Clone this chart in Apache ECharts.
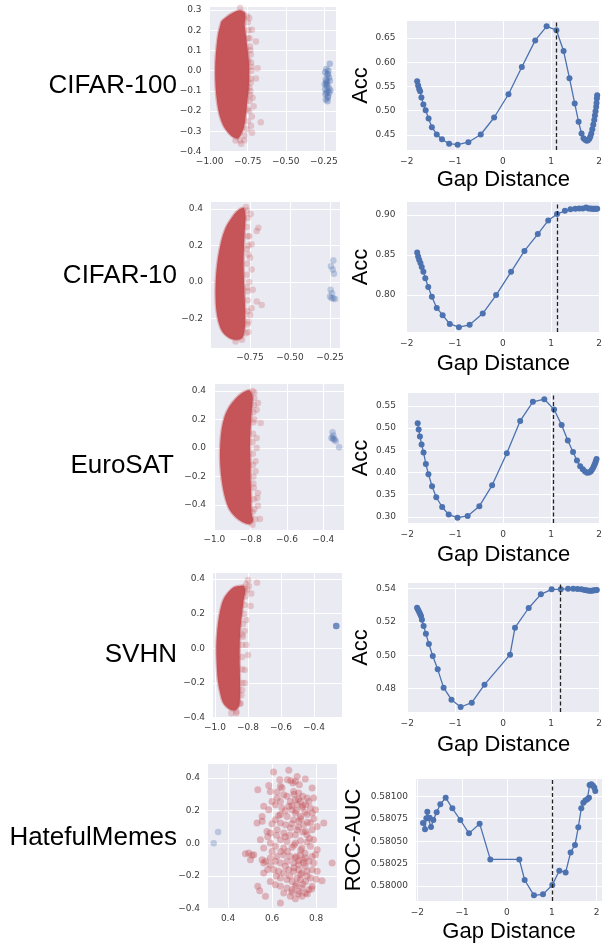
<!DOCTYPE html>
<html><head><meta charset="utf-8">
<script src="https://cdn.jsdelivr.net/npm/echarts@6/dist/echarts.min.js"></script>
<style>html,body{margin:0;padding:0;background:#fff}#c{width:605px;height:948px}</style>
</head><body><div id="c"></div>
<script>
// ---------------- DATA ----------------
const datasetNames = ['CIFAR-100', 'CIFAR-10', 'EuroSAT', 'SVHN', 'HatefulMemes'];
const metricNames = ['Acc', 'Acc', 'Acc', 'Acc', 'ROC-AUC'];
const gapAxisTitle = 'Gap Distance';

// right column: metric vs gap distance
const gapCifar100 = [-1.783,-1.763,-1.742,-1.722,-1.695,-1.654,-1.607,-1.546,-1.478,-1.376,-1.268,-1.119,-0.942,-0.719,-0.461,-0.183,0.115,0.393,0.671,0.908,1.112,1.261,1.383,1.492,1.573,1.634,1.675,1.708,1.742,1.769,1.797,1.817,1.837,1.858,1.878,1.898,1.912,1.925,1.939,1.946,1.953,1.959];
const accCifar100 = [0.561,0.552,0.545,0.540,0.527,0.513,0.501,0.484,0.466,0.451,0.441,0.432,0.430,0.435,0.451,0.486,0.534,0.590,0.645,0.674,0.666,0.623,0.567,0.515,0.477,0.453,0.443,0.440,0.438,0.439,0.442,0.447,0.453,0.462,0.471,0.481,0.490,0.499,0.508,0.516,0.525,0.532];

const gapCifar10 = [-1.783,-1.763,-1.742,-1.715,-1.688,-1.654,-1.614,-1.553,-1.478,-1.376,-1.254,-1.105,-0.915,-0.692,-0.420,-0.142,0.169,0.447,0.725,0.942,1.125,1.288,1.403,1.505,1.586,1.661,1.729,1.776,1.817,1.851,1.878,1.905,1.932,1.959];
const accCifar10 = [0.853,0.848,0.844,0.840,0.835,0.829,0.821,0.810,0.798,0.784,0.775,0.764,0.760,0.763,0.777,0.800,0.829,0.855,0.876,0.893,0.901,0.905,0.907,0.9075,0.908,0.908,0.909,0.908,0.908,0.9075,0.9075,0.9075,0.9075,0.9075];

const gapEuroSAT = [-1.782,-1.762,-1.735,-1.701,-1.660,-1.612,-1.558,-1.483,-1.395,-1.272,-1.136,-0.952,-0.741,-0.497,-0.231,0.075,0.354,0.619,0.857,1.061,1.218,1.347,1.456,1.537,1.605,1.660,1.707,1.748,1.789,1.823,1.850,1.878,1.898,1.918,1.932,1.946];
const accEuroSAT = [0.511,0.497,0.481,0.463,0.445,0.419,0.396,0.369,0.344,0.322,0.305,0.298,0.302,0.324,0.371,0.443,0.516,0.559,0.565,0.542,0.507,0.472,0.446,0.427,0.414,0.407,0.402,0.399,0.400,0.402,0.406,0.411,0.416,0.421,0.426,0.430];

const gapSVHN = [-1.795,-1.775,-1.754,-1.734,-1.713,-1.693,-1.659,-1.611,-1.549,-1.468,-1.365,-1.242,-1.078,-0.887,-0.655,-0.389,0.143,0.246,0.532,0.785,1.010,1.201,1.352,1.461,1.549,1.631,1.693,1.741,1.782,1.823,1.857,1.891,1.925,1.952];
const accSVHN = [0.5286,0.5274,0.5262,0.5250,0.5236,0.5214,0.5176,0.5130,0.5068,0.4996,0.4916,0.4806,0.4734,0.4690,0.4716,0.4824,0.5004,0.5166,0.5284,0.5366,0.5396,0.5396,0.5400,0.5400,0.5398,0.5396,0.5392,0.5390,0.5388,0.5388,0.5388,0.5390,0.5390,0.5392];

const gapHateful = [-1.874,-1.829,-1.799,-1.777,-1.755,-1.725,-1.695,-1.643,-1.569,-1.487,-1.368,-1.219,-1.041,-0.848,-0.610,-0.372,0.275,0.394,0.602,0.803,1.011,1.167,1.309,1.420,1.517,1.591,1.658,1.703,1.747,1.792,1.829,1.844,1.881,1.918,1.948,1.970];
const aucHateful = [0.580703,0.580632,0.580755,0.580829,0.580755,0.580762,0.580658,0.580736,0.580822,0.580911,0.580985,0.580866,0.580736,0.580587,0.580695,0.580297,0.580297,0.580067,0.579896,0.579907,0.580011,0.580171,0.580152,0.580375,0.580457,0.580654,0.580866,0.580929,0.580952,0.580967,0.580985,0.581126,0.581134,0.581119,0.581097,0.581059];

// dashed vertical marker (gap distance) for each dataset
const markerGap = [1.10, 1.12, 1.04, 1.19, 1.00];

// left column: embedding scatter. Dense red cloud = outline of the saturated region,
// plus individually visible red points and blue points.
const cloudCifar100 = [[-0.922,0.244],[-0.89,0.266],[-0.847,0.287],[-0.806,0.298],[-0.772,0.29],[-0.765,0.262],[-0.77,0.232],[-0.763,0.18],[-0.752,0.115],[-0.743,0.05],[-0.74,-0.016],[-0.743,-0.084],[-0.752,-0.15],[-0.762,-0.215],[-0.772,-0.272],[-0.79,-0.31],[-0.815,-0.335],[-0.847,-0.328],[-0.879,-0.305],[-0.91,-0.272],[-0.937,-0.215],[-0.955,-0.134],[-0.963,-0.05],[-0.963,0.034],[-0.955,0.118],[-0.943,0.186],[-0.93,0.225]];
const redCifar100 = [[-0.722,0.202],[-0.696,0.144],[-0.685,0.012],[-0.696,-0.038],[-0.718,-0.134],[-0.711,-0.176],[-0.722,-0.227],[-0.664,-0.255],[-0.728,-0.272],[-0.722,-0.307],[-0.772,-0.344],[-0.793,-0.361],[-0.739,-0.084],[-0.733,0.101],[-0.74,0.26],[-0.745,0.05],[-0.75,-0.19],[-0.8,0.31],[-0.75,0.16],
  [-0.755,0.27],[-0.75,0.24],[-0.745,0.2],[-0.738,0.16],[-0.735,0.12],[-0.73,0.08],[-0.728,0.04],[-0.725,0.0],[-0.73,-0.04],[-0.733,-0.1],[-0.738,-0.15],[-0.74,-0.2],[-0.748,-0.25],[-0.755,-0.29],[-0.77,-0.32],[-0.8,-0.345],[-0.83,-0.345],[-0.73,-0.06],[-0.727,0.02],[-0.735,-0.12]];
const blueCifar100 = [[-0.211,0.034],[-0.233,0.009],[-0.222,-0.016],[-0.237,-0.042],[-0.211,-0.05],[-0.228,-0.067],[-0.218,-0.084],[-0.241,-0.092],[-0.207,-0.097],[-0.233,-0.109],[-0.222,-0.126],[-0.237,-0.143],[-0.226,-0.151],[-0.241,-0.008],[-0.216,-0.033],[-0.231,-0.075],[-0.214,-0.109],[-0.239,-0.117],[-0.224,-0.134],[-0.235,-0.059],[-0.22,0.0],[-0.244,-0.067],[-0.228,-0.02],[-0.226,-0.1],[-0.23,-0.05]];

const cloudCifar10 = [[-0.792,0.405],[-0.833,0.385],[-0.873,0.34],[-0.903,0.295],[-0.93,0.222],[-0.95,0.132],[-0.962,0.04],[-0.966,-0.051],[-0.962,-0.143],[-0.948,-0.215],[-0.925,-0.268],[-0.885,-0.302],[-0.835,-0.315],[-0.797,-0.302],[-0.782,-0.25],[-0.78,-0.161],[-0.784,-0.07],[-0.788,0.022],[-0.79,0.114],[-0.787,0.206],[-0.782,0.297],[-0.778,0.365]];
const redCifar10 = [[-0.708,0.279],[-0.698,0.297],[-0.74,0.206],[-0.75,0.132],[-0.74,0.068],[-0.733,-0.042],[-0.708,-0.106],[-0.677,-0.125],[-0.74,-0.143],[-0.75,-0.18],[-0.76,-0.272],[-0.76,-0.217],[-0.746,0.371],[-0.775,0.41],[-0.76,0.2],[-0.755,0.0],[-0.765,-0.05],[-0.755,0.25],
  [-0.77,0.39],[-0.765,0.35],[-0.77,0.3],[-0.765,0.25],[-0.77,0.18],[-0.768,0.1],[-0.77,0.04],[-0.768,-0.03],[-0.765,-0.1],[-0.762,-0.16],[-0.765,-0.23],[-0.775,-0.28],[-0.8,-0.315],[-0.84,-0.325],[-0.76,0.15]];
const blueCifar10 = [[-0.229,0.117],[-0.244,0.086],[-0.233,0.068],[-0.225,0.046],[-0.246,-0.042],[-0.237,-0.061],[-0.25,-0.079],[-0.229,-0.088],[-0.219,-0.092],[-0.24,-0.088]];

const cloudEuroSAT = [[-0.809,0.405],[-0.845,0.388],[-0.882,0.348],[-0.918,0.29],[-0.943,0.222],[-0.96,0.129],[-0.968,0.012],[-0.968,-0.105],[-0.96,-0.222],[-0.943,-0.339],[-0.918,-0.43],[-0.882,-0.487],[-0.845,-0.52],[-0.805,-0.535],[-0.787,-0.51],[-0.795,-0.456],[-0.797,-0.339],[-0.8,-0.222],[-0.8,-0.105],[-0.803,0.012],[-0.8,0.129],[-0.795,0.246],[-0.789,0.36]];
const redEuroSAT = [[-0.76,0.316],[-0.745,0.175],[-0.767,0.07],[-0.767,0.0],[-0.773,-0.164],[-0.76,-0.316],[-0.764,-0.351],[-0.76,-0.405],[-0.749,-0.498],[-0.767,0.269],[-0.773,-0.094],[-0.78,0.2],[-0.785,-0.25],[-0.78,0.39],[-0.79,-0.45],
  [-0.79,0.4],[-0.78,0.35],[-0.782,0.3],[-0.785,0.25],[-0.785,0.18],[-0.787,0.1],[-0.79,0.04],[-0.788,-0.04],[-0.787,-0.12],[-0.785,-0.2],[-0.783,-0.28],[-0.782,-0.36],[-0.78,-0.43],[-0.775,-0.5],[-0.79,-0.54]];
const blueEuroSAT = [[-0.349,0.11],[-0.345,0.087],[-0.355,0.07],[-0.342,0.058],[-0.331,0.047],[-0.313,0.005],[-0.349,0.07],[-0.338,0.062]];

const cloudSVHN = [[-0.84,0.362],[-0.881,0.355],[-0.921,0.322],[-0.95,0.279],[-0.972,0.202],[-0.986,0.106],[-0.992,0.01],[-0.99,-0.087],[-0.983,-0.183],[-0.968,-0.26],[-0.95,-0.315],[-0.915,-0.35],[-0.881,-0.358],[-0.856,-0.335],[-0.848,-0.279],[-0.848,-0.183],[-0.85,-0.087],[-0.85,0.01],[-0.846,0.106],[-0.836,0.202],[-0.826,0.279],[-0.816,0.335],[-0.825,0.36]];
const redSVHN = [[-0.8,0.394],[-0.745,0.379],[-0.78,0.317],[-0.784,0.244],[-0.81,0.163],[-0.81,0.019],[-0.8,-0.038],[-0.82,-0.125],[-0.835,-0.24],[-0.85,-0.317],[-0.871,-0.375],[-0.901,-0.375],[-0.83,0.067],[-0.815,0.33],[-0.795,0.36],[-0.82,-0.2],
  [-0.81,0.37],[-0.805,0.34],[-0.815,0.3],[-0.82,0.25],[-0.825,0.2],[-0.83,0.14],[-0.835,0.08],[-0.835,0.02],[-0.835,-0.05],[-0.835,-0.12],[-0.835,-0.2],[-0.84,-0.27],[-0.845,-0.32],[-0.87,-0.365],[-0.82,0.1]];
const blueSVHN = [[-0.265,0.129],[-0.265,0.129],[-0.265,0.129],[-0.265,0.129]];

const cloudHateful = [];
const redHateful = [
[0.607,0.437],[0.676,0.447],[0.714,0.41],[0.635,0.39],[0.67,0.39],[0.685,0.384],[0.706,0.38],[0.751,0.394],[0.585,0.355],[0.638,0.349],[0.645,0.34],[0.695,0.369],[0.724,0.359],[0.782,0.339],
[0.535,0.329],[0.592,0.318],[0.623,0.314],[0.653,0.298],[0.668,0.288],[0.698,0.318],[0.721,0.308],[0.739,0.288],[0.759,0.278],[0.789,0.278],[0.623,0.278],[0.638,0.257],[0.683,0.257],[0.706,0.267],[0.729,0.257],[0.767,0.257],
[0.562,0.227],[0.6,0.257],[0.615,0.237],[0.645,0.216],[0.676,0.227],[0.691,0.206],[0.714,0.237],[0.736,0.22],[0.752,0.237],[0.774,0.216],[0.797,0.206],[0.638,0.176],[0.668,0.165],[0.706,0.186],[0.729,0.165],[0.759,0.176],[0.782,0.186],[0.555,0.165],[0.585,0.206],
[0.532,0.124],[0.555,0.135],[0.615,0.145],[0.638,0.124],[0.661,0.114],[0.698,0.145],[0.721,0.135],[0.744,0.114],[0.774,0.124],[0.805,0.104],[0.835,0.124],[0.577,0.073],[0.623,0.084],[0.683,0.094],[0.714,0.084],[0.752,0.073],[0.782,0.084],[0.592,0.063],[0.653,0.063],[0.706,0.053],[0.759,0.053],
[0.547,0.022],[0.592,0.002],[0.638,0.022],[0.668,0.012],[0.706,0.002],[0.729,0.016],[0.759,0.008],[0.789,0.022],[0.615,-0.018],[0.653,-0.029],[0.691,-0.024],[0.736,-0.029],[0.774,-0.018],[0.805,-0.039],[0.562,-0.029],
[0.479,-0.063],[0.494,-0.059],[0.509,-0.073],[0.517,-0.069],[0.502,-0.1],[0.555,-0.1],[0.57,-0.11],[0.592,-0.09],[0.623,-0.08],[0.653,-0.069],[0.683,-0.08],[0.706,-0.09],[0.729,-0.069],[0.752,-0.09],[0.782,-0.08],[0.797,-0.069],[0.615,-0.11],[0.638,-0.12],[0.668,-0.11],[0.698,-0.12],[0.721,-0.106],[0.744,-0.12],[0.767,-0.11],[0.592,-0.131],[0.562,-0.12],[0.873,-0.12],
[0.562,-0.182],[0.608,-0.161],[0.63,-0.171],[0.653,-0.182],[0.676,-0.161],[0.698,-0.171],[0.721,-0.161],[0.736,-0.182],[0.759,-0.171],[0.782,-0.161],[0.805,-0.171],[0.592,-0.233],[0.638,-0.212],[0.668,-0.222],[0.691,-0.233],[0.714,-0.212],[0.729,-0.222],[0.752,-0.233],[0.774,-0.212],[0.827,-0.229],[0.615,-0.253],
[0.535,-0.263],[0.544,-0.29],[0.57,-0.324],[0.638,-0.263],[0.668,-0.273],[0.691,-0.284],[0.706,-0.263],[0.721,-0.294],[0.736,-0.273],[0.752,-0.304],[0.767,-0.284],[0.683,-0.324],[0.706,-0.339],[0.736,-0.324],[0.638,-0.365],[0.653,-0.304],[0.782,-0.263],
[0.7,0.3],[0.72,0.27],[0.74,0.23],[0.71,0.2],[0.75,0.19],[0.73,0.15],[0.76,0.13],[0.69,0.12],[0.72,0.1],[0.74,0.07],[0.77,0.03],[0.7,-0.01],[0.73,-0.04],[0.75,-0.06],[0.71,-0.08],[0.74,-0.1],[0.72,-0.13],[0.75,-0.14],[0.7,-0.15],[0.73,-0.19],[0.76,-0.2],[0.71,-0.25],[0.74,-0.25],[0.72,-0.31],[0.76,-0.31],[0.69,-0.3],[0.68,-0.2],[0.66,-0.14],[0.67,-0.05],[0.64,-0.05],[0.66,0.04],[0.62,0.05],[0.63,0.17],[0.66,0.2],[0.69,0.23],[0.68,0.05],[0.79,0.15],[0.79,-0.12],[0.8,-0.22],[0.78,-0.28],[0.62,-0.2],[0.6,-0.05],[0.6,0.12],[0.58,-0.16],[0.58,0.04]
];
const blueHateful = [[0.355,0.069],[0.335,0.0]];

// ---------------- LAYOUT / STYLE ----------------
const gapSeries = [gapCifar100, gapCifar10, gapEuroSAT, gapSVHN, gapHateful];
const metricSeries = [accCifar100, accCifar10, accEuroSAT, accSVHN, aucHateful];
const clouds = [cloudCifar100, cloudCifar10, cloudEuroSAT, cloudSVHN, cloudHateful];
const reds = [redCifar100, redCifar10, redEuroSAT, redSVHN, redHateful];
const blues = [blueCifar100, blueCifar10, blueEuroSAT, blueSVHN, blueHateful];

const scatterGrids = [
  {left:209.5, top:7, width:126.5, height:145},
  {left:211, top:202, width:129, height:146},
  {left:214, top:384, width:130, height:146},
  {left:213, top:573, width:129, height:145},
  {left:208, top:764, width:129, height:145}
];
const lineGrids = [
  {left:406.5, top:21, width:197, height:129},
  {left:406.5, top:202, width:197, height:130},
  {left:407, top:393, width:196, height:130},
  {left:407, top:583, width:196, height:129},
  {left:416, top:779, width:186, height:122}
];
// [min, max, step, decimals]
const scatterX = [[-1.001,-0.17,0.25,2],[-0.994,-0.1875,0.25,2],[-1.002,-0.286,0.2,1],[-1.012,-0.23,0.2,1],[0.309,0.895,0.2,1]];
const scatterY = [[-0.402,0.315,0.1,1],[-0.36,0.437,0.2,1],[-0.576,0.449,0.2,1],[-0.402,0.435,0.2,1],[-0.402,0.486,0.2,1]];
const lineX = [[-2.005,2.02,1,0],[-2.005,2.02,1,0],[-2.005,2.02,1,0],[-2.005,2.02,1,0],[-2.03,2.12,1,0]];
const lineY = [[0.419,0.685,0.05,2],[0.754,0.916,0.05,2],[0.286,0.579,0.05,2],[0.466,0.5434,0.02,2],[0.579833,0.581193,0.00025,5]];
const labelY = [86, 276, 466, 655, 838];
const labelRight = [177, 177, 174, 177, 177];
const xNameGap = [19, 21, 21, 22, 20];
const yNameGap = [30, 30, 30, 30, 51];

const RED = '#C44E52', BLUE = '#4C72B0', BG = '#EAEAF2';
const TICK_FONT = 'DejaVu Sans';
const TITLE_FONT = 'Liberation Sans';

function fmt(step, dec) {
  return function (v) {
    const r = v / step;
    if (Math.abs(r - Math.round(r)) > 1e-4) return '';
    let s = (Math.round(r) * step).toFixed(dec);
    if (parseFloat(s) === 0) s = (0).toFixed(dec);
    return s.replace('-', '\u2212');
  };
}
function valueAxis(gridIndex, spec, margin, extra) {
  return Object.assign({
    type: 'value', gridIndex: gridIndex,
    min: spec[0], max: spec[1], minInterval: spec[2], maxInterval: spec[2],
    axisLine: {show: false}, axisTick: {show: false},
    splitLine: {show: true, showMinLine: false, showMaxLine: false, lineStyle: {color: '#ffffff', width: 1}},
    axisLabel: {formatter: fmt(spec[2], spec[3]), fontSize: 9, color: '#3a3a3a', fontFamily: TICK_FONT, margin: margin}
  }, extra || {});
}

const grids = [], xAxes = [], yAxes = [], series = [], graphics = [];
for (let i = 0; i < 5; i++) {
  const gs = Object.assign({show: true, backgroundColor: BG, borderWidth: 0, containLabel: false}, scatterGrids[i]);
  const gl = Object.assign({show: true, backgroundColor: BG, borderWidth: 0, containLabel: false}, lineGrids[i]);
  grids.push(gs, gl);
  const si = 2 * i, li = 2 * i + 1;
  xAxes.push(valueAxis(si, scatterX[i], 5));
  yAxes.push(valueAxis(si, scatterY[i], 8));
  xAxes.push(valueAxis(li, lineX[i], 7, {
    name: gapAxisTitle, nameLocation: 'middle', nameGap: xNameGap[i],
    nameTextStyle: {fontFamily: TITLE_FONT, fontSize: 22, color: '#000'}
  }));
  yAxes.push(valueAxis(li, lineY[i], i === 4 ? 8 : 11, {
    name: metricNames[i], nameLocation: 'middle', nameGap: yNameGap[i],
    nameTextStyle: {fontFamily: TITLE_FONT, fontSize: 22, color: '#000'}
  }));

  // scatter panel
  series.push({
    type: 'scatter', xAxisIndex: si, yAxisIndex: si, data: reds[i], symbolSize: i === 4 ? 7 : 6.5,
    itemStyle: {color: RED, opacity: i === 4 ? 0.36 : 0.25}, silent: true, clip: true
  });
  if (clouds[i].length) {
    const outline = clouds[i];
    series.push({
      type: 'custom', xAxisIndex: si, yAxisIndex: si, clip: true, silent: true,
      data: [outline[0]],
      renderItem: function (params, api) {
        const pts = outline.map(function (p) { return api.coord(p); });
        return {type: 'polygon', shape: {points: pts, smooth: 0.3},
          style: {fill: 'rgba(196,78,82,0.96)', stroke: 'rgba(196,78,82,0.35)', lineWidth: 2.5}};
      }
    });
  }
  series.push({
    type: 'scatter', xAxisIndex: si, yAxisIndex: si, data: blues[i], symbolSize: 6.5,
    itemStyle: {color: BLUE, opacity: i === 0 ? 0.38 : 0.3}, silent: true, clip: true
  });

  // line panel
  const pts = gapSeries[i].map(function (g, k) { return [g, metricSeries[i][k]]; });
  series.push({
    type: 'line', xAxisIndex: li, yAxisIndex: li, data: pts,
    symbol: 'circle', symbolSize: 6, showSymbol: true, showAllSymbol: true,
    lineStyle: {color: BLUE, width: 1.3}, itemStyle: {color: BLUE},
    silent: true, clip: false,
    markLine: {
      silent: true, symbol: ['none', 'none'], label: {show: false},
      lineStyle: {type: [4, 2.5], color: '#222', width: 1.3},
      data: [{xAxis: markerGap[i]}]
    }
  });

  graphics.push({
    type: 'text', x: labelRight[i], y: labelY[i], silent: true,
    style: {text: datasetNames[i], fontFamily: TITLE_FONT, fontSize: 26, fill: '#000', align: 'right', verticalAlign: 'middle'}
  });
}

const chart = echarts.init(document.getElementById('c'), null, {renderer: 'canvas'});
chart.setOption({
  animation: false,
  backgroundColor: '#ffffff',
  grid: grids, xAxis: xAxes, yAxis: yAxes, series: series,
  graphic: graphics
});
</script>
</body></html>
